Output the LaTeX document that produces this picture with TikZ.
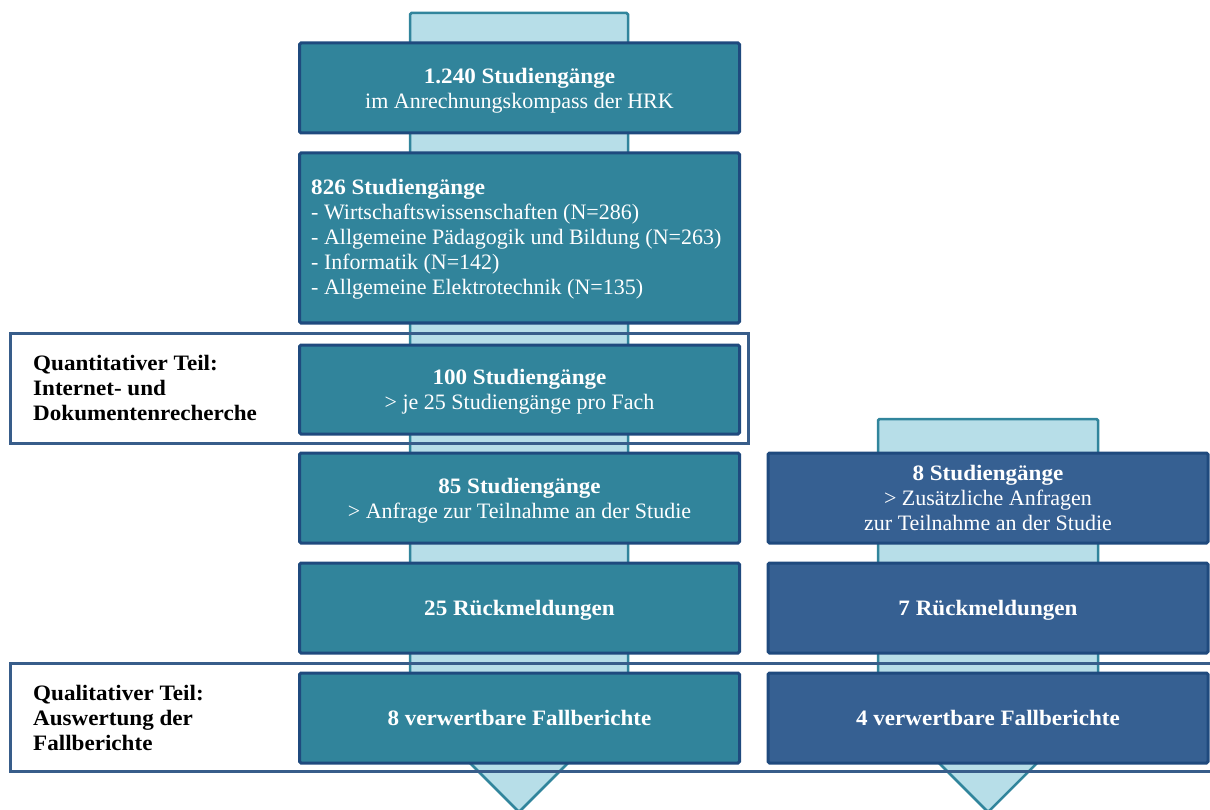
\documentclass[tikz,border=0pt]{standalone}
\usepackage{fontspec}
\setmainfont{Liberation Serif}[BoldFeatures={FakeStretch=1.05}]
\definecolor{tealfill}{HTML}{31849B}
\definecolor{navyline}{HTML}{1F4A7E}
\definecolor{bluefill}{HTML}{366092}
\definecolor{lightfill}{HTML}{B7DEE8}
\definecolor{arrowline}{HTML}{31859C}
\definecolor{frameline}{HTML}{385D8A}
\tikzset{
  box/.style={draw=navyline, line width=3pt, fill=tealfill, rounded corners=1.5pt,
    minimum width=440pt, minimum height=90pt, inner sep=0pt, align=center,
    text depth=-3.5pt, text=white, font=\fontsize{22}{25}\selectfont},
  rbox/.style={box, fill=bluefill},
  boxtext/.style={anchor=west, align=left, inner sep=0pt, text=white,
    font=\fontsize{22}{25}\selectfont},
  shaft/.style={draw=arrowline, line width=2.5pt, fill=lightfill, rounded corners=1.5pt},
  frame/.style={draw=frameline, line width=3pt},
  sidelabel/.style={anchor=west, align=left, inner sep=0pt,
    font=\fontsize{22}{25}\selectfont\bfseries}
}
\begin{document}
\begin{tikzpicture}[x=1pt,y=-1pt]
\useasboundingbox (0,0) rectangle (1210,810);
% background arrows
\draw[shaft] (410,13) -- (628,13) -- (628,703) -- (519,812) -- (410,703) -- cycle;
\draw[shaft] (878,419) -- (1098,419) -- (1098,702) -- (988,812) -- (878,702) -- cycle;
% frames
\draw[frame] (10,333) rectangle (748,443);
\draw[frame] (10,663) rectangle (1225,771);
% left column
\node[box] (b1) at (519.5,88) {\textbf{1.240 Studiengänge}\\im Anrechnungskompass der HRK};
\node[box, minimum height=170pt] (b2) at (519.5,238) {};
\node[boxtext] (b2t) at ([xshift=13pt,yshift=-1.5pt]b2.west)
  {\textbf{826 Studiengänge}\\- Wirtschaftswissenschaften (N=286)\\- Allgemeine Pädagogik und Bildung (N=263)\\- Informatik (N=142)\\- Allgemeine Elektrotechnik (N=135)};
\node[box, minimum height=89pt] (b3) at (519.5,389.5) {\textbf{100 Studiengänge}\\> je 25 Studiengänge pro Fach};
\node[box] (b4) at (519.5,498) {\textbf{85 Studiengänge}\\> Anfrage zur Teilnahme an der Studie};
\node[box] (b5) at (519.5,608) {\textbf{25 Rückmeldungen}};
\node[box] (b6) at (519.5,718) {\textbf{8 verwertbare Fallberichte}};
% right column
\node[rbox] (r1) at (988,498) {\textbf{8 Studiengänge}\\> Zusätzliche Anfragen\\zur Teilnahme an der Studie};
\node[rbox] (r2) at (988,608) {\textbf{7 Rückmeldungen}};
\node[rbox] (r3) at (988,718) {\textbf{4 verwertbare Fallberichte}};
% side labels
\node[sidelabel] (q1) at (33,388) {Quantitativer Teil:\\Internet- und\\Dokumentenrecherche};
\node[sidelabel] (q2) at (33,718) {Qualitativer Teil:\\Auswertung der\\Fallberichte};
\end{tikzpicture}
\end{document}
